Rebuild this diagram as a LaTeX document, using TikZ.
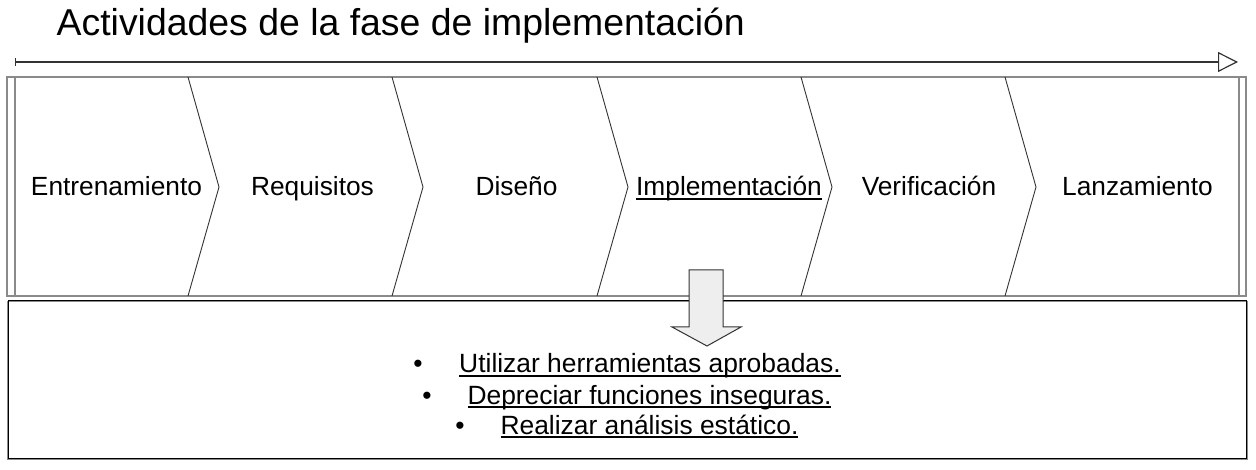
\documentclass[tikz,border=0pt]{standalone}
\usepackage{fontspec}
\setmainfont{Liberation Sans}
\usetikzlibrary{arrows.meta}
\newcommand{\myul}[1]{\setbox0\hbox{#1}\rlap{\rule[-4pt]{\wd0}{1.6pt}}\box0}
\definecolor{dline}{HTML}{333333}
\definecolor{gline}{HTML}{8A8A8A}
\definecolor{afill}{HTML}{EEEEEE}
\tikzset{
  lbl/.style={anchor=base, font=\fontsize{26.3}{30}\selectfont, inner sep=0pt},
  blt/.style={anchor=base, font=\fontsize{26.4}{30}\selectfont, inner sep=0pt},
  chev/.style={draw=dline, line width=0.9pt},
}
\begin{document}
\begin{tikzpicture}[x=1pt,y=-1pt]
\useasboundingbox (0,0) rectangle (1256,470);
% title
\node[anchor=base west, inner sep=0pt, font=\fontsize{37.4}{42}\selectfont] (title) at (56.5,36) {Actividades de la fase de implementación};
% timeline arrow
\coordinate (tstart) at (15,62);
\coordinate (tend) at (1238,62);
\draw[dline, line width=1.2pt, {Bar[width=8pt]}-{Triangle[open,length=20pt,width=20pt,fill=white]}] (tstart) -- (tend);
% top box
\draw[gline, line width=1.5pt, fill=white] (7,77) rectangle (1246,296);
\draw[gline, line width=1.2pt] (15,77) -- (15,296);
\draw[gline, line width=1.2pt] (1239,77) -- (1239,296);
% chevron boundaries
\foreach \b in {188,392,597,801,1005}{
  \draw[chev] (\b,77) -- (\b+31,187) -- (\b,296);
}
% labels
\node[lbl] (c1) at (116.5,196) {Entrenamiento};
\node[lbl] (c2) at (312.5,196) {Requisitos};
\node[lbl] (c3) at (516.5,196) {Diseño};
\node[lbl] (c4) at (729,196) {\myul{Implementación}};
\node[lbl] (c5) at (929,196) {Verificación};
\node[lbl] (c6) at (1137.5,196) {Lanzamiento};
% bottom box
\draw[gline, line width=1.6pt] (7.5,301.5) rectangle (1247,459);
\draw[black, line width=0.9pt] (8.5,300.5) rectangle (1246,458);
\node[draw=none, inner sep=0pt, minimum width=1238pt, minimum height=158pt] (bottom) at (627,379.5) {};
% down arrow
\draw[dline, line width=1pt, fill=afill] (689,270) -- (723,270) -- (723,327) -- (741,327) -- (707,346) -- (672,327) -- (689,327) -- cycle;
% bullets
\node[blt] (b1) at (418,373) {•};
\node[blt] (t1) at (650,373) {\myul{Utilizar herramientas aprobadas.}};
\node[blt] (b2) at (427,404) {•};
\node[blt] (t2) at (649.5,404) {\myul{Depreciar funciones inseguras.}};
\node[blt] (b3) at (460,434) {•};
\node[blt] (t3) at (649.5,434) {\myul{Realizar análisis estático.}};
\end{tikzpicture}
\end{document}
